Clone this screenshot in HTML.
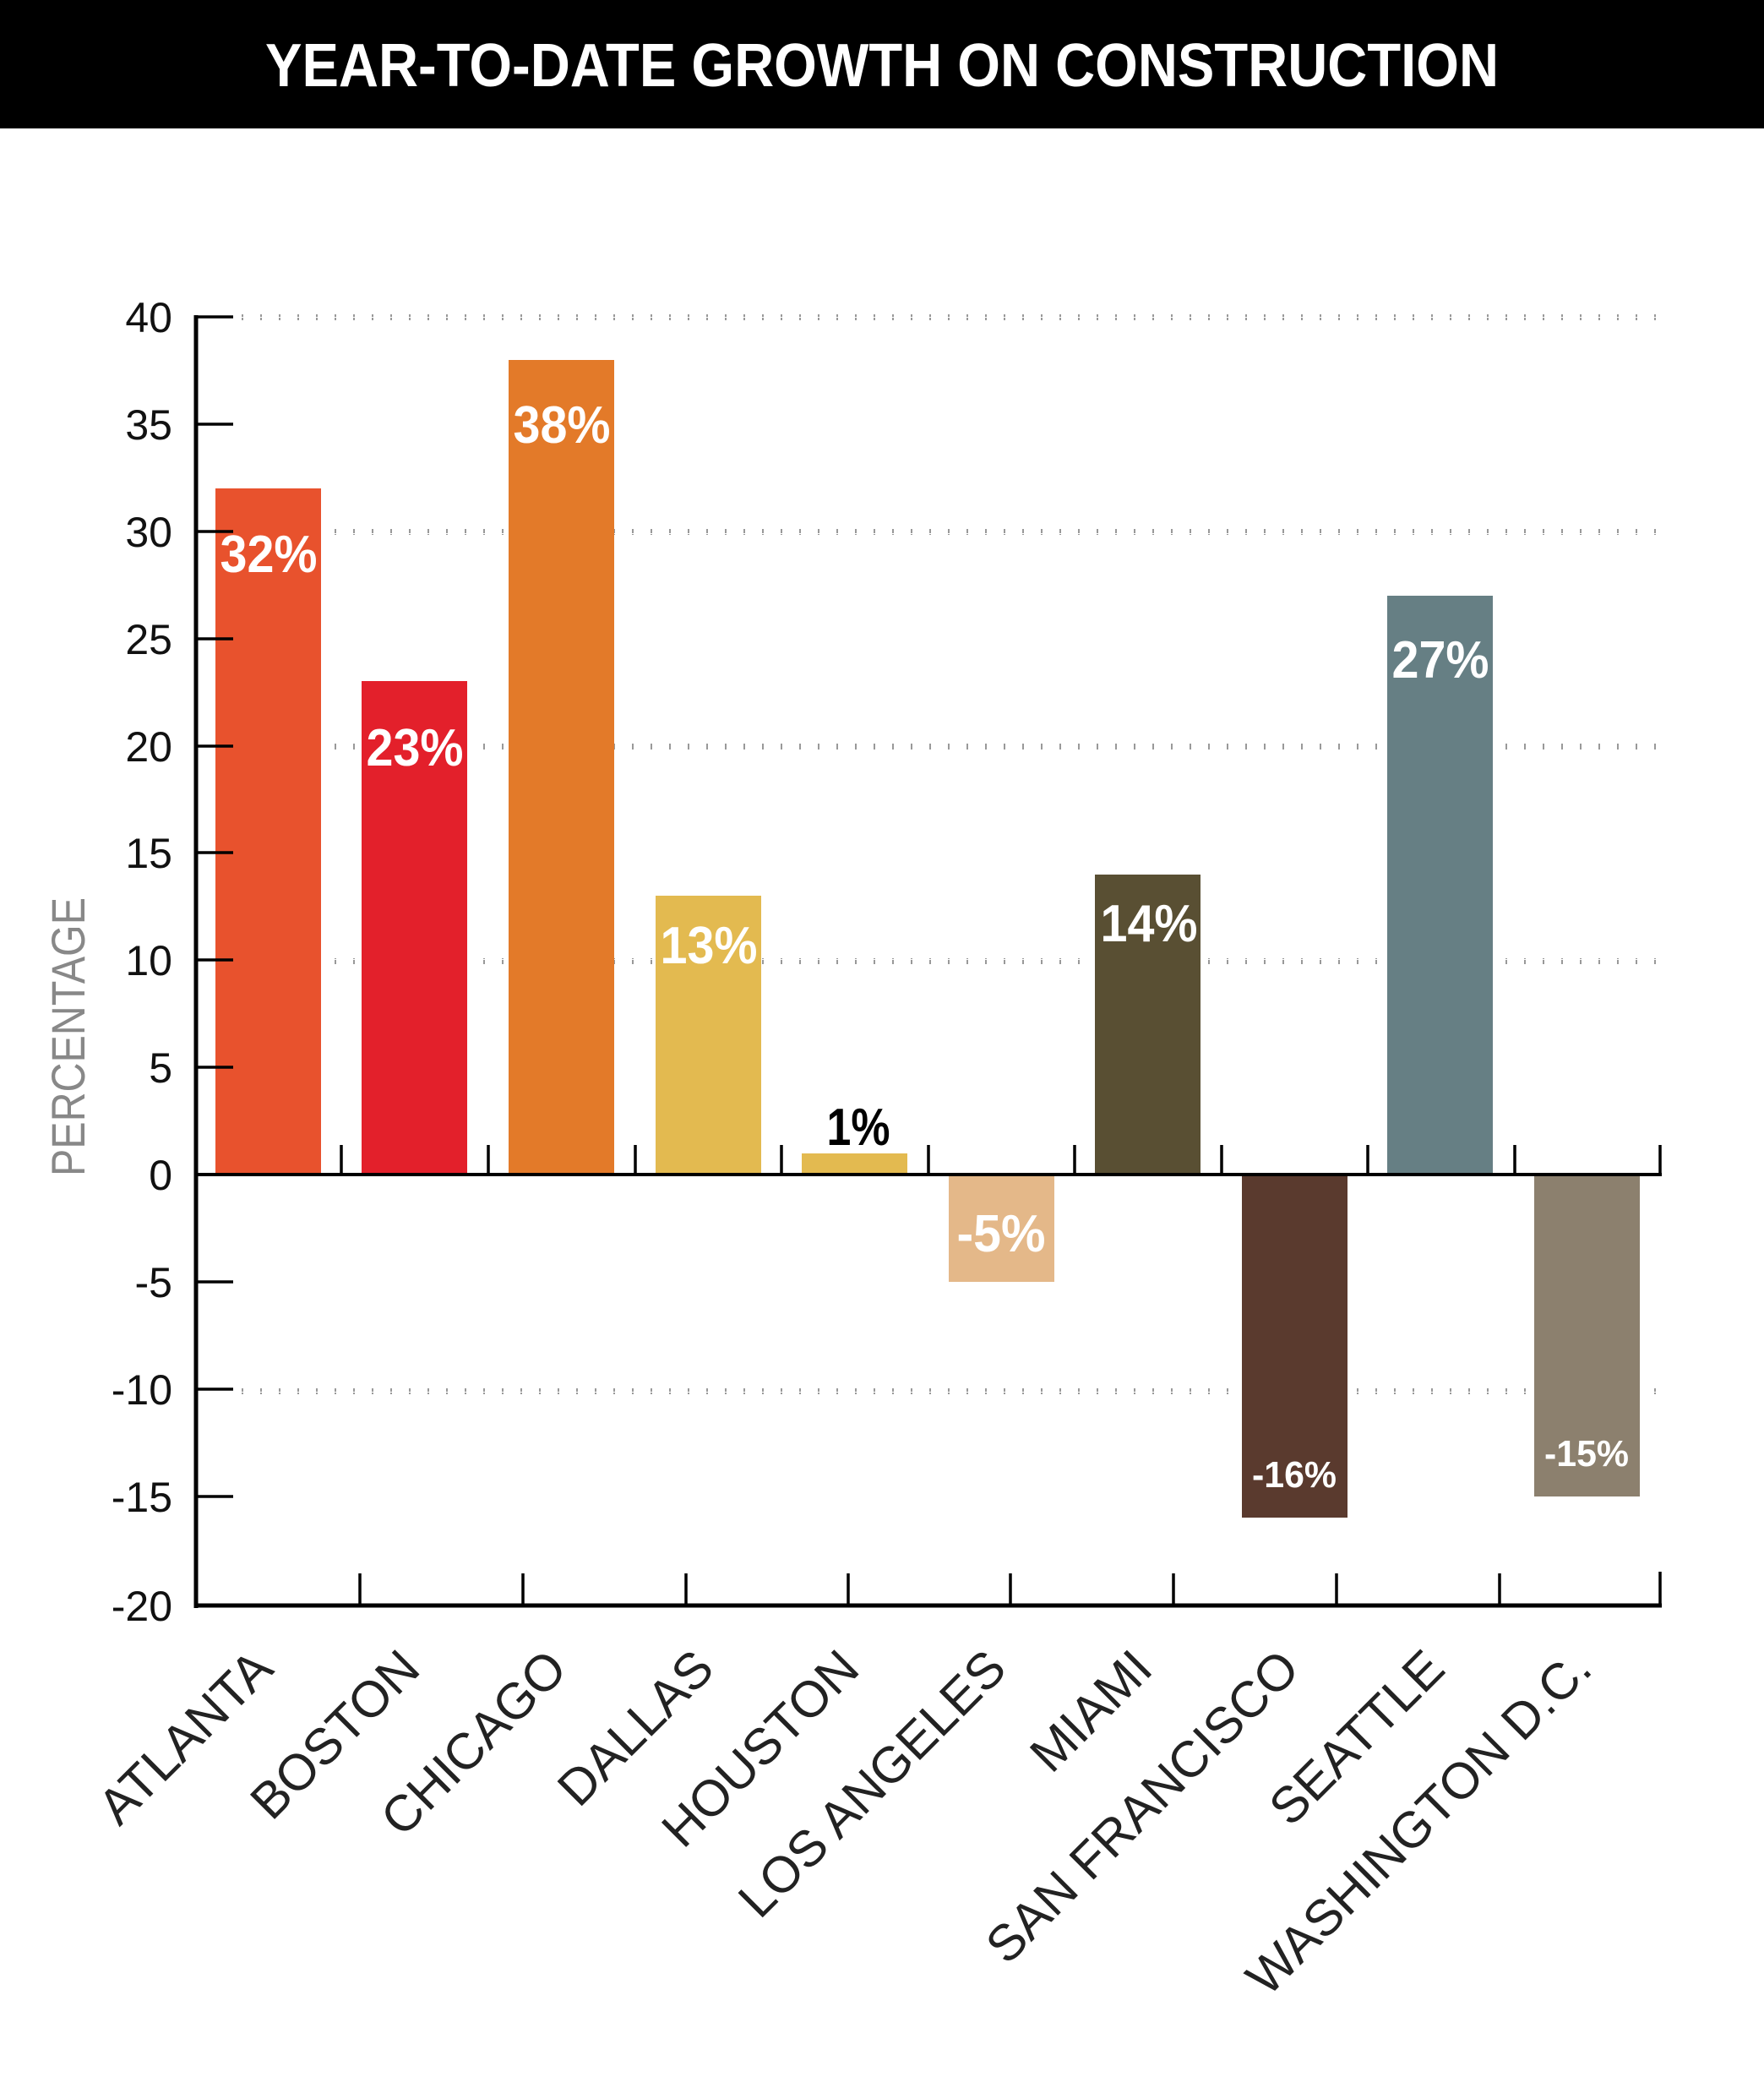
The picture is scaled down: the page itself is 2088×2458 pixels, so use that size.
<!DOCTYPE html>
<html><head><meta charset="utf-8"><style>
html,body{margin:0;padding:0;background:#fff;}
svg{display:block;}
text{font-family:"Liberation Sans",sans-serif;}
</style></head><body>
<svg width="2088" height="2458" viewBox="0 0 2088 2458" xmlns="http://www.w3.org/2000/svg">
<defs>
<pattern id="dots" x="0" y="0" width="22" height="8" patternUnits="userSpaceOnUse">
<rect x="0" y="0" width="2" height="7" fill="#999"/>
</pattern>
</defs>
<rect x="0" y="0" width="2088" height="152" fill="#000"/>
<text x="1044" y="102" font-size="72" font-weight="bold" fill="#fff" text-anchor="middle" textLength="1460" lengthAdjust="spacingAndGlyphs">YEAR-TO-DATE GROWTH ON CONSTRUCTION</text>

<g fill="url(#dots)">
<rect x="280" y="372" width="1700" height="7"/>
<rect x="280" y="626" width="1700" height="7"/>
<rect x="280" y="880" width="1700" height="7"/>
<rect x="280" y="1134" width="1700" height="7"/>
<rect x="280" y="1643" width="1700" height="7"/>
</g>

<g>
<rect x="255" y="578" width="125" height="812" fill="#E8522D"/>
<rect x="428" y="806" width="125" height="584" fill="#E3202B"/>
<rect x="602" y="426" width="125" height="964" fill="#E37A29"/>
<rect x="776" y="1060" width="125" height="330" fill="#E3BA50"/>
<rect x="949" y="1365" width="125" height="25" fill="#E3BA50"/>
<rect x="1123" y="1390" width="125" height="127" fill="#E4B889"/>
<rect x="1296" y="1035" width="125" height="355" fill="#594F33"/>
<rect x="1470" y="1390" width="125" height="406" fill="#5A3A2E"/>
<rect x="1642" y="705" width="125" height="685" fill="#667F84"/>
<rect x="1816" y="1390" width="125" height="381" fill="#8C806E"/>
</g>

<g font-weight="bold" font-size="62" fill="#fff" text-anchor="middle">
<text x="318" y="677" textLength="115" lengthAdjust="spacingAndGlyphs">32%</text>
<text x="491" y="906" textLength="115" lengthAdjust="spacingAndGlyphs">23%</text>
<text x="665" y="524" textLength="115" lengthAdjust="spacingAndGlyphs">38%</text>
<text x="839" y="1140" textLength="115" lengthAdjust="spacingAndGlyphs">13%</text>
<text x="1016" y="1355" fill="#000" textLength="75" lengthAdjust="spacingAndGlyphs">1%</text>
<text x="1185" y="1481" textLength="105" lengthAdjust="spacingAndGlyphs">-5%</text>
<text x="1360" y="1114" textLength="115" lengthAdjust="spacingAndGlyphs">14%</text>
<text x="1532" y="1760" font-size="44" textLength="100" lengthAdjust="spacingAndGlyphs">-16%</text>
<text x="1705" y="802" textLength="115" lengthAdjust="spacingAndGlyphs">27%</text>
<text x="1878" y="1735" font-size="44" textLength="100" lengthAdjust="spacingAndGlyphs">-15%</text>
</g>

<g stroke="#000" fill="none">
<line x1="232" y1="373" x2="232" y2="1903" stroke-width="5"/>
<line x1="230" y1="1390" x2="1967" y2="1390" stroke-width="4"/>
<line x1="230" y1="1900" x2="1967" y2="1900" stroke-width="5"/>
<g stroke-width="3.5">
<line x1="232" y1="375" x2="276" y2="375"/>
<line x1="232" y1="502" x2="276" y2="502"/>
<line x1="232" y1="629" x2="276" y2="629"/>
<line x1="232" y1="756" x2="276" y2="756"/>
<line x1="232" y1="883" x2="276" y2="883"/>
<line x1="232" y1="1009" x2="276" y2="1009"/>
<line x1="232" y1="1136" x2="276" y2="1136"/>
<line x1="232" y1="1263" x2="276" y2="1263"/>
<line x1="232" y1="1517" x2="276" y2="1517"/>
<line x1="232" y1="1644" x2="276" y2="1644"/>
<line x1="232" y1="1771" x2="276" y2="1771"/>
</g>
<g stroke-width="3.5">
<line x1="404" y1="1390" x2="404" y2="1355"/>
<line x1="578" y1="1390" x2="578" y2="1355"/>
<line x1="752" y1="1390" x2="752" y2="1355"/>
<line x1="925" y1="1390" x2="925" y2="1355"/>
<line x1="1099" y1="1390" x2="1099" y2="1355"/>
<line x1="1272" y1="1390" x2="1272" y2="1355"/>
<line x1="1446" y1="1390" x2="1446" y2="1355"/>
<line x1="1619" y1="1390" x2="1619" y2="1355"/>
<line x1="1793" y1="1390" x2="1793" y2="1355"/>
<line x1="1965" y1="1392" x2="1965" y2="1355"/>
</g>
<g stroke-width="3.5">
<line x1="426" y1="1900" x2="426" y2="1862"/>
<line x1="619" y1="1900" x2="619" y2="1862"/>
<line x1="812" y1="1900" x2="812" y2="1862"/>
<line x1="1004" y1="1900" x2="1004" y2="1862"/>
<line x1="1196" y1="1900" x2="1196" y2="1862"/>
<line x1="1389" y1="1900" x2="1389" y2="1862"/>
<line x1="1582" y1="1900" x2="1582" y2="1862"/>
<line x1="1775" y1="1900" x2="1775" y2="1862"/>
<line x1="1965" y1="1902" x2="1965" y2="1860"/>
</g>
</g>

<g font-size="50" fill="#111" text-anchor="end">
<text x="204" y="393">40</text>
<text x="204" y="520">35</text>
<text x="204" y="647">30</text>
<text x="204" y="774">25</text>
<text x="204" y="901">20</text>
<text x="204" y="1027">15</text>
<text x="204" y="1154">10</text>
<text x="204" y="1281">5</text>
<text x="204" y="1408">0</text>
<text x="204" y="1535">-5</text>
<text x="204" y="1662">-10</text>
<text x="204" y="1789">-15</text>
<text x="204" y="1918">-20</text>
</g>

<text transform="translate(100,1227) rotate(-90)" font-size="56" fill="#888" text-anchor="middle" textLength="330" lengthAdjust="spacingAndGlyphs">PERCENTAGE</text>

<g font-size="60" fill="#222" text-anchor="end">
<text transform="translate(326,1978) rotate(-45)">ATLANTA</text>
<text transform="translate(500,1978) rotate(-45)">BOSTON</text>
<text transform="translate(674,1978) rotate(-45)">CHICAGO</text>
<text transform="translate(848,1978) rotate(-45)">DALLAS</text>
<text transform="translate(1020,1978) rotate(-45)">HOUSTON</text>
<text transform="translate(1194,1978) rotate(-45)">LOS ANGELES</text>
<text transform="translate(1367,1978) rotate(-45)">MIAMI</text>
<text transform="translate(1541,1978) rotate(-45)">SAN FRANCISCO</text>
<text transform="translate(1713,1978) rotate(-45)">SEATTLE</text>
<text transform="translate(1887,1978) rotate(-45)">WASHINGTON D.C.</text>
</g>
</svg>
</body></html>
